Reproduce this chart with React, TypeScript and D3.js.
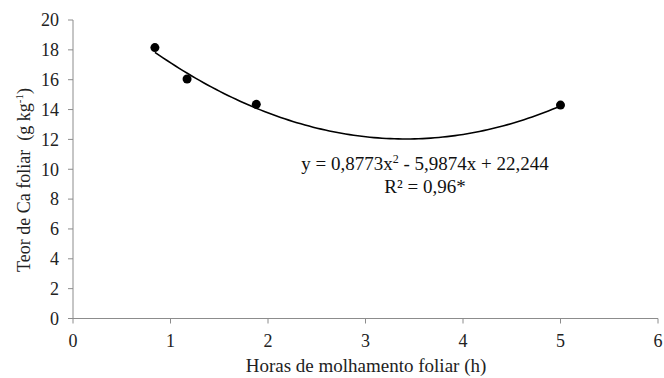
import { useMemo } from 'react'
import * as d3 from 'd3'

const hours = [0.84, 1.17, 1.88, 5]
const calcium = [18.15, 16.05, 14.35, 14.3]
const coefs = [0.8773, -5.9874, 22.244]
const xTicks = [0, 1, 2, 3, 4, 5, 6]
const yTicks = [0, 2, 4, 6, 8, 10, 12, 14, 16, 18, 20]

const W = 664
const H = 378
const font = "'Liberation Serif', 'DejaVu Serif', serif"
const axisColor = '#8c8c8c'

const App = () => {
  const x = d3.scaleLinear().domain([0, 6]).range([73, 658])
  const y = d3.scaleLinear().domain([0, 20]).range([318.5, 20])

  // fitted quadratic, sampled between the first and last observation
  const curve = useMemo(() => {
    const pts: [number, number][] = []
    const x0 = d3.min(hours) as number
    const x1 = d3.max(hours) as number
    for (let i = 0; i <= 100; i++) {
      const xv = x0 + ((x1 - x0) * i) / 100
      pts.push([xv, coefs[0] * xv * xv + coefs[1] * xv + coefs[2]])
    }
    return pts
  }, [])

  const line = d3
    .line<[number, number]>()
    .x((d) => x(d[0]))
    .y((d) => y(d[1]))

  return (
    <svg
      width={W}
      height={H}
      style={{ position: 'absolute', left: 0, top: 0, background: '#fff', fontFamily: font }}
    >
      {/* y axis */}
      <line x1={x(0)} x2={x(0)} y1={y(20)} y2={y(0)} stroke={axisColor} strokeWidth={1} />
      {yTicks.map((t) => (
        <g key={'y' + t}>
          <line x1={x(0) - 5} x2={x(0)} y1={y(t)} y2={y(t)} stroke={axisColor} />
          <text x={59} y={y(t)} dy="0.35em" textAnchor="end" fontSize={18} fill="#222">
            {t}
          </text>
        </g>
      ))}
      {/* x axis */}
      <line x1={x(0)} x2={x(6)} y1={y(0)} y2={y(0)} stroke={axisColor} strokeWidth={1} />
      {xTicks.map((t) => (
        <g key={'x' + t}>
          <line x1={x(t)} x2={x(t)} y1={y(0)} y2={y(0) + 5} stroke={axisColor} />
          <text x={x(t)} y={347} textAnchor="middle" fontSize={18} fill="#222">
            {t}
          </text>
        </g>
      ))}
      <text x={366} y={372} textAnchor="middle" fontSize={19} fill="#222">
        Horas de molhamento foliar (h)
      </text>
      <text transform="translate(30, 180) rotate(-90)" textAnchor="middle" fontSize={18} fill="#222">
        Teor de Ca foliar{'\u00a0\u00a0'}(g kg
        <tspan fontSize={11} dy={-7}>-1</tspan>
        <tspan dy={7}>)</tspan>
      </text>
      {/* fitted curve and points */}
      <path d={line(curve) || ''} fill="none" stroke="#000" strokeWidth={1.6} />
      {hours.map((h, i) => (
        <circle key={'p' + i} cx={x(h)} cy={y(calcium[i])} r={4.5} fill="#000" />
      ))}
      <text x={425} y={170} textAnchor="middle" fontSize={19} fill="#111">
        y = 0,8773x<tspan fontSize={12} dy={-7}>2</tspan>
        <tspan dy={7}> - 5,9874x + 22,244</tspan>
      </text>
      <text x={425} y={193} textAnchor="middle" fontSize={19} fill="#111">
        R² = 0,96*
      </text>
    </svg>
  )
}

export default App
